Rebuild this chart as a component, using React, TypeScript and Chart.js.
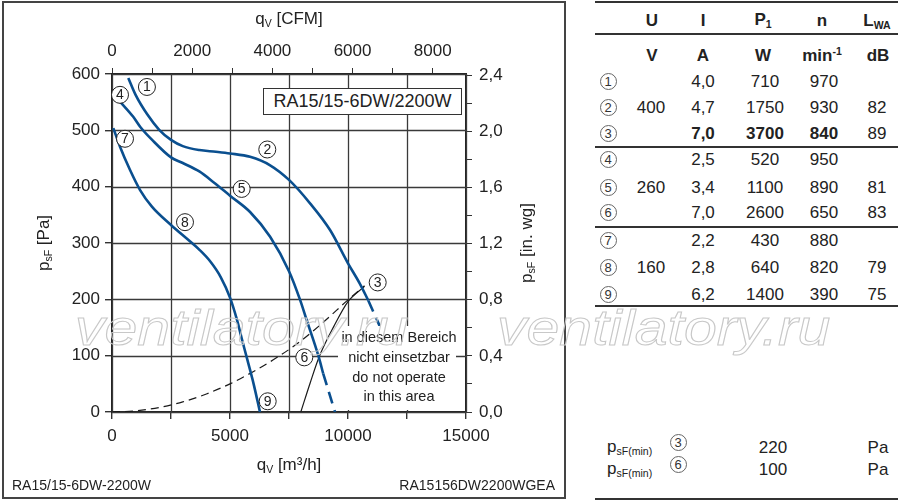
import React, { useEffect, useRef } from "react";
import { Chart, registerables } from "chart.js";

Chart.register(...registerables);

const FONT = '"Liberation Sans", Arial, Helvetica, sans-serif';
const BLUE = "#0a4f8f";
const INK = "#222";
const GRID = "#3a3a3a";

// ---------- chart data (q_V in m³/h, p_sF in Pa) ----------
const CURVE_400V: [number, number][] = [
  [690, 593], [1000, 563], [1500, 528], [2000, 501], [2500, 483], [3000, 472],
  [3700, 465], [4400, 462], [5000, 459], [5850, 453], [6700, 438], [7500, 412],
  [8400, 370], [9240, 323], [10000, 264], [10500, 228], [10860, 198],
];
const CURVE_400V_DASH: [number, number][] = [[10860, 198], [11350, 152]];

const CURVE_260V: [number, number][] = [
  [340, 551], [900, 524], [1200, 506], [1700, 483], [2500, 452], [3000, 442],
  [3700, 427], [4300, 408], [5000, 384], [5850, 355], [6700, 311], [7500, 250],
  [7970, 199], [8250, 163], [8750, 99], [8950, 68],
];
const CURVE_260V_DASH: [number, number][] = [[8950, 68], [9450, 0]];

const CURVE_160V: [number, number][] = [
  [56, 504], [340, 471], [760, 430], [1190, 394], [1700, 364], [2500, 332],
  [3300, 303], [3730, 287], [4150, 268], [4600, 240], [5000, 203], [5300, 163],
  [5500, 130], [5740, 92], [6000, 50], [6270, 0],
];

const SYSTEM_CURVE: [number, number][] = [
  [0, 0], [1000, 2], [2000, 8], [3000, 18], [4000, 32], [5000, 50], [6000, 72],
  [7000, 97], [8000, 126], [9000, 161], [10000, 199], [10700, 224],
];

const LIMIT_LINE: [number, number][] = [
  [8000, 0], [8400, 52], [8780, 98], [9400, 152], [10000, 196], [10700, 223],
];

// circled operating-point labels: [number, q_V, p_sF]
const CHART_MARKERS: [number, number, number][] = [
  [1, 1480, 577], [2, 6580, 466], [3, 11258, 230],
  [4, 339, 563], [5, 5495, 396], [6, 8148, 97],
  [7, 551, 485], [8, 3093, 337], [9, 6597, 19],
];

// ---------- axes ----------
const X_TICKS = [0, 2500, 5000, 7500, 10000, 12500, 15000];
const X_LABELS = [0, 5000, 10000, 15000];
const CFM_TICKS = [0, 1000, 2000, 3000, 4000, 5000, 6000, 7000, 8000];
const CFM_LABELS = [0, 2000, 4000, 6000, 8000];
const PA_TICKS = [0, 100, 200, 300, 400, 500, 600];
const INWG_TICKS = [0, 0.2, 0.4, 0.6, 0.8, 1.0, 1.2, 1.4, 1.6, 1.8, 2.0, 2.2, 2.4];
const INWG_LABELS = [0, 0.4, 0.8, 1.2, 1.6, 2.0, 2.4];
const M3H_PER_CFM = 1.699;
const PA_PER_INWG = 249.089;

// ---------- table data ----------
const ROW_IDS = [1, 2, 3, 4, 5, 6, 7, 8, 9];
const TABLE_U = ["400", "260", "160"];
const TABLE_I = ["4,0", "4,7", "7,0", "2,5", "3,4", "7,0", "2,2", "2,8", "6,2"];
const TABLE_P1 = ["710", "1750", "3700", "520", "1100", "2600", "430", "640", "1400"];
const TABLE_N = ["970", "930", "840", "950", "890", "650", "880", "820", "390"];
const TABLE_LWA = ["", "82", "89", "", "81", "83", "", "79", "75"];
const BOLD_ROW = 3;
const PMIN_IDS = [3, 6];
const PMIN_VALUES = ["220", "100"];

const toXY = (arr: [number, number][]) => arr.map(([x, y]) => ({ x, y }));

const gridPlugin = {
  id: "gridlines",
  beforeDatasetsDraw(chart: any) {
    const { ctx, chartArea: a } = chart;
    const xs = chart.scales.x;
    const ys = chart.scales.y;
    ctx.save();
    ctx.strokeStyle = GRID;
    ctx.lineWidth = 1.3;
    ctx.beginPath();
    for (const v of X_TICKS) {
      const px = Math.round(xs.getPixelForValue(v)) + 0.5;
      ctx.moveTo(px, a.top);
      ctx.lineTo(px, a.bottom);
    }
    for (const v of PA_TICKS) {
      const py = Math.round(ys.getPixelForValue(v)) + 0.5;
      ctx.moveTo(a.left, py);
      ctx.lineTo(a.right, py);
    }
    ctx.stroke();
    ctx.restore();
  },
};

const markerPlugin = {
  id: "markers",
  afterDatasetsDraw(chart: any) {
    const { ctx } = chart;
    const xs = chart.scales.x;
    const ys = chart.scales.y;
    ctx.save();
    for (const [n, vx, vy] of CHART_MARKERS) {
      const px = xs.getPixelForValue(vx);
      const py = ys.getPixelForValue(vy);
      ctx.beginPath();
      ctx.arc(px, py, 8.5, 0, Math.PI * 2);
      ctx.fillStyle = "#fff";
      ctx.fill();
      ctx.lineWidth = 1;
      ctx.strokeStyle = "#222";
      ctx.stroke();
      ctx.fillStyle = "#222";
      ctx.font = `14px ${FONT}`;
      ctx.textAlign = "center";
      ctx.textBaseline = "middle";
      ctx.fillText(String(n), px, py + 0.5);
    }
    ctx.restore();
  },
};

const tickFont = { size: 17, family: FONT };

function Txt(props: any) {
  const { x, y, children, size = 17, bold = false, anchor = "center", style } = props;
  const tr =
    anchor === "center" ? "translate(-50%,-50%)" : anchor === "left" ? "translate(0,-50%)" : "translate(-100%,-50%)";
  return (
    <div
      style={{
        position: "absolute",
        left: x,
        top: y,
        transform: tr,
        fontSize: size,
        fontWeight: bold ? 700 : 400,
        whiteSpace: "nowrap",
        lineHeight: 1,
        color: INK,
        ...style,
      }}
    >
      {children}
    </div>
  );
}

function Circ({ x, y, n }: { x: number; y: number; n: number }) {
  return (
    <div
      style={{
        position: "absolute",
        left: x - 8.5,
        top: y - 8.5,
        width: 17,
        height: 17,
        border: "1px solid #666",
        borderRadius: "50%",
        boxSizing: "border-box",
        fontSize: 13,
        lineHeight: "15px",
        textAlign: "center",
        color: "#333",
      }}
    >
      {n}
    </div>
  );
}

function HLine({ y, x1 = 595, x2 = 898 }: { y: number; x1?: number; x2?: number }) {
  return <div style={{ position: "absolute", left: x1, top: y - 1, width: x2 - x1, height: 2, background: "#333" }} />;
}

const sub = { fontSize: "0.62em", verticalAlign: "-0.25em" } as const;
const sup = { fontSize: "0.62em", verticalAlign: "0.55em" } as const;

export default function App() {
  const ref = useRef<HTMLCanvasElement>(null);

  useEffect(() => {
    Chart.defaults.font.family = FONT;
    const chart = new Chart(ref.current as HTMLCanvasElement, {
      type: "scatter",
      data: {
        datasets: [
          { data: toXY(CURVE_400V), borderColor: BLUE, borderWidth: 2.6 },
          { data: toXY(CURVE_400V_DASH), borderColor: BLUE, borderWidth: 2.6, borderDash: [12, 7] },
          { data: toXY(CURVE_260V), borderColor: BLUE, borderWidth: 2.6 },
          { data: toXY(CURVE_260V_DASH), borderColor: BLUE, borderWidth: 2.6, borderDash: [12, 7] },
          { data: toXY(CURVE_160V), borderColor: BLUE, borderWidth: 2.6 },
          { data: toXY(SYSTEM_CURVE), borderColor: "#1a1a1a", borderWidth: 1.2, borderDash: [8, 5] },
          { data: toXY(LIMIT_LINE), borderColor: "#1a1a1a", borderWidth: 1.2 },
        ].map((d) => ({
          ...d,
          showLine: true,
          pointRadius: 0,
          fill: false,
          cubicInterpolationMode: "monotone" as const,
          xAxisID: "x",
          yAxisID: "y",
        })),
      },
      options: {
        responsive: false,
        maintainAspectRatio: false,
        animation: false,
        devicePixelRatio: 1,
        layout: { padding: 0 },
        plugins: { legend: { display: false }, tooltip: { enabled: false } },
        scales: {
          x: {
            type: "linear",
            position: "bottom",
            min: 0,
            max: 15000,
            afterBuildTicks: (s: any) => {
              s.ticks = X_TICKS.map((v) => ({ value: v }));
            },
            afterFit: (s: any) => {
              s.height = 91;
            },
            grid: { drawOnChartArea: false, color: GRID, lineWidth: 1.4, tickLength: 7, tickColor: "#333" },
            border: { color: "#222", width: 2 },
            ticks: {
              font: tickFont,
              color: INK,
              padding: 7,
              maxRotation: 0,
              autoSkip: false,
              callback: (v: any) => (X_LABELS.includes(Number(v)) ? String(v) : ""),
            },
          },
          x2: {
            type: "linear",
            position: "top",
            min: 0,
            max: 15000 / M3H_PER_CFM,
            afterBuildTicks: (s: any) => {
              s.ticks = CFM_TICKS.map((v) => ({ value: v }));
            },
            afterFit: (s: any) => {
              s.height = 74;
            },
            grid: { drawOnChartArea: false, tickLength: 6, color: "#333" },
            border: { color: "#222", width: 1.8 },
            ticks: {
              font: tickFont,
              color: INK,
              padding: 6,
              maxRotation: 0,
              autoSkip: false,
              callback: (v: any) => (CFM_LABELS.includes(Number(v)) ? String(v) : ""),
            },
          },
          y: {
            type: "linear",
            position: "left",
            min: 0,
            max: 600,
            afterBuildTicks: (s: any) => {
              s.ticks = PA_TICKS.map((v) => ({ value: v }));
            },
            afterFit: (s: any) => {
              s.width = 112;
            },
            grid: { drawOnChartArea: false, color: GRID, lineWidth: 1.4, tickLength: 7, tickColor: "#333" },
            border: { color: "#222", width: 1.8 },
            ticks: { font: tickFont, color: INK, padding: 5, autoSkip: false },
          },
          y2: {
            type: "linear",
            position: "right",
            min: 0,
            max: 600 / PA_PER_INWG,
            afterBuildTicks: (s: any) => {
              s.ticks = INWG_TICKS.map((v) => ({ value: v }));
            },
            afterFit: (s: any) => {
              s.width = 99;
            },
            grid: { drawOnChartArea: false, tickLength: 6, color: "#333" },
            border: { color: "#222", width: 1.8 },
            ticks: {
              font: tickFont,
              color: INK,
              padding: 7,
              autoSkip: false,
              callback: (v: any) =>
                INWG_LABELS.some((l) => Math.abs(l - Number(v)) < 1e-6) ? Number(v).toFixed(1).replace(".", ",") : "",
            },
          },
        },
      },
      plugins: [gridPlugin, markerPlugin],
    } as any);
    return () => chart.destroy();
  }, []);

  const rowY = [81, 107, 133, 159, 187, 212, 240, 267, 294];
  const colI = 703;
  const colP = 765;
  const colN = 824;
  const colL = 877;

  return (
    <div
      style={{
        position: "absolute",
        left: 0,
        top: 0,
        width: 900,
        height: 503,
        background: "#fff",
        fontFamily: FONT,
        overflow: "hidden",
      }}
    >
      <canvas ref={ref} width={565} height={503} style={{ position: "absolute", left: 0, top: 0, width: 565, height: 503 }} />

      {/* frame */}
      <div
        style={{
          position: "absolute",
          left: 2,
          top: 1,
          width: 564,
          height: 498,
          border: "2px solid #444",
          boxSizing: "border-box",
        }}
      />

      {/* axis titles */}
      <Txt x={289} y={19}>
        q<span style={sub}>V</span> [CFM]
      </Txt>
      <Txt x={289} y={465}>
        q<span style={sub}>V</span> [m³/h]
      </Txt>
      <Txt x={44} y={243} style={{ transform: "translate(-50%,-50%) rotate(-90deg)" }}>
        p<span style={sub}>sF</span> [Pa]
      </Txt>
      <Txt x={527} y={243} style={{ transform: "translate(-50%,-50%) rotate(-90deg)" }}>
        p<span style={sub}>sF</span> [in. wg]
      </Txt>

      {/* model box */}
      <div
        style={{
          position: "absolute",
          left: 263,
          top: 88,
          width: 199,
          height: 27,
          border: "1.5px solid #333",
          boxSizing: "border-box",
          background: "#fff",
          fontSize: 18,
          lineHeight: "24px",
          textAlign: "center",
          color: INK,
          whiteSpace: "nowrap",
        }}
      >
        RA15/15-6DW/2200W
      </div>

      {/* not-operating area */}
      <div
        style={{
          position: "absolute",
          left: 338,
          top: 326,
          width: 118,
          height: 84,
          background: "#fff",
        }}
      />
      <Txt x={399} y={337} size={14.5}>in diesem Bereich</Txt>
      <Txt x={399} y={357} size={14.5}>nicht einsetzbar</Txt>
      <Txt x={399} y={377} size={14.5}>do not operate</Txt>
      <Txt x={399} y={396} size={14.5}>in this area</Txt>

      {/* footer labels */}
      <Txt x={12} y={485} size={14} anchor="left">RA15/15-6DW-2200W</Txt>
      <Txt x={555} y={485} size={14} anchor="right">RA15156DW2200WGEA</Txt>

      {/* table */}
      <HLine y={2} />
      <HLine y={33.5} />
      <HLine y={147} />
      <HLine y={227} />
      <HLine y={306} />

      <Txt x={652} y={20} bold>U</Txt>
      <Txt x={colI} y={20} bold>I</Txt>
      <Txt x={763} y={20} bold>
        P<span style={sub}>1</span>
      </Txt>
      <Txt x={822} y={20} bold>n</Txt>
      <Txt x={877} y={21} bold>
        L<span style={sub}>WA</span>
      </Txt>
      <Txt x={652} y={55} bold>V</Txt>
      <Txt x={colI} y={55} bold>A</Txt>
      <Txt x={763} y={55} bold>W</Txt>
      <Txt x={822} y={55} bold>
        min<span style={sup}>-1</span>
      </Txt>
      <Txt x={878} y={55} bold>dB</Txt>

      {ROW_IDS.map((id, i) => (
        <React.Fragment key={id}>
          <Circ x={608} y={rowY[i]} n={id} />
          <Txt x={colI} y={rowY[i]} bold={id === BOLD_ROW}>{TABLE_I[i]}</Txt>
          <Txt x={colP} y={rowY[i]} bold={id === BOLD_ROW}>{TABLE_P1[i]}</Txt>
          <Txt x={colN} y={rowY[i]} bold={id === BOLD_ROW}>{TABLE_N[i]}</Txt>
          <Txt x={colL} y={rowY[i]}>{TABLE_LWA[i]}</Txt>
        </React.Fragment>
      ))}
      {TABLE_U.map((u, g) => (
        <Txt key={u} x={651} y={rowY[g * 3 + 1]}>{u}</Txt>
      ))}

      {PMIN_IDS.map((id, i) => (
        <React.Fragment key={id}>
          <Txt x={607} y={447 + i * 22} anchor="left">
            p<span style={sub}>sF(min)</span>
          </Txt>
          <Circ x={678} y={442 + i * 22} n={id} />
          <Txt x={773} y={447 + i * 22}>{PMIN_VALUES[i]}</Txt>
          <Txt x={878} y={447 + i * 22}>Pa</Txt>
        </React.Fragment>
      ))}
      <HLine y={499} />

      {/* watermark */}
      {[75, 497].map((x) => (
        <div
          key={x}
          style={{
            position: "absolute",
            left: x,
            top: 303,
            fontSize: 50,
            fontStyle: "italic",
            lineHeight: 1,
            color: "transparent",
            WebkitTextStroke: "1px #c8c8c8",
            transform: "scaleX(1.18)",
            transformOrigin: "left top",
            whiteSpace: "nowrap",
            pointerEvents: "none",
          }}
        >
          ventilatory.ru
        </div>
      ))}
    </div>
  );
}
